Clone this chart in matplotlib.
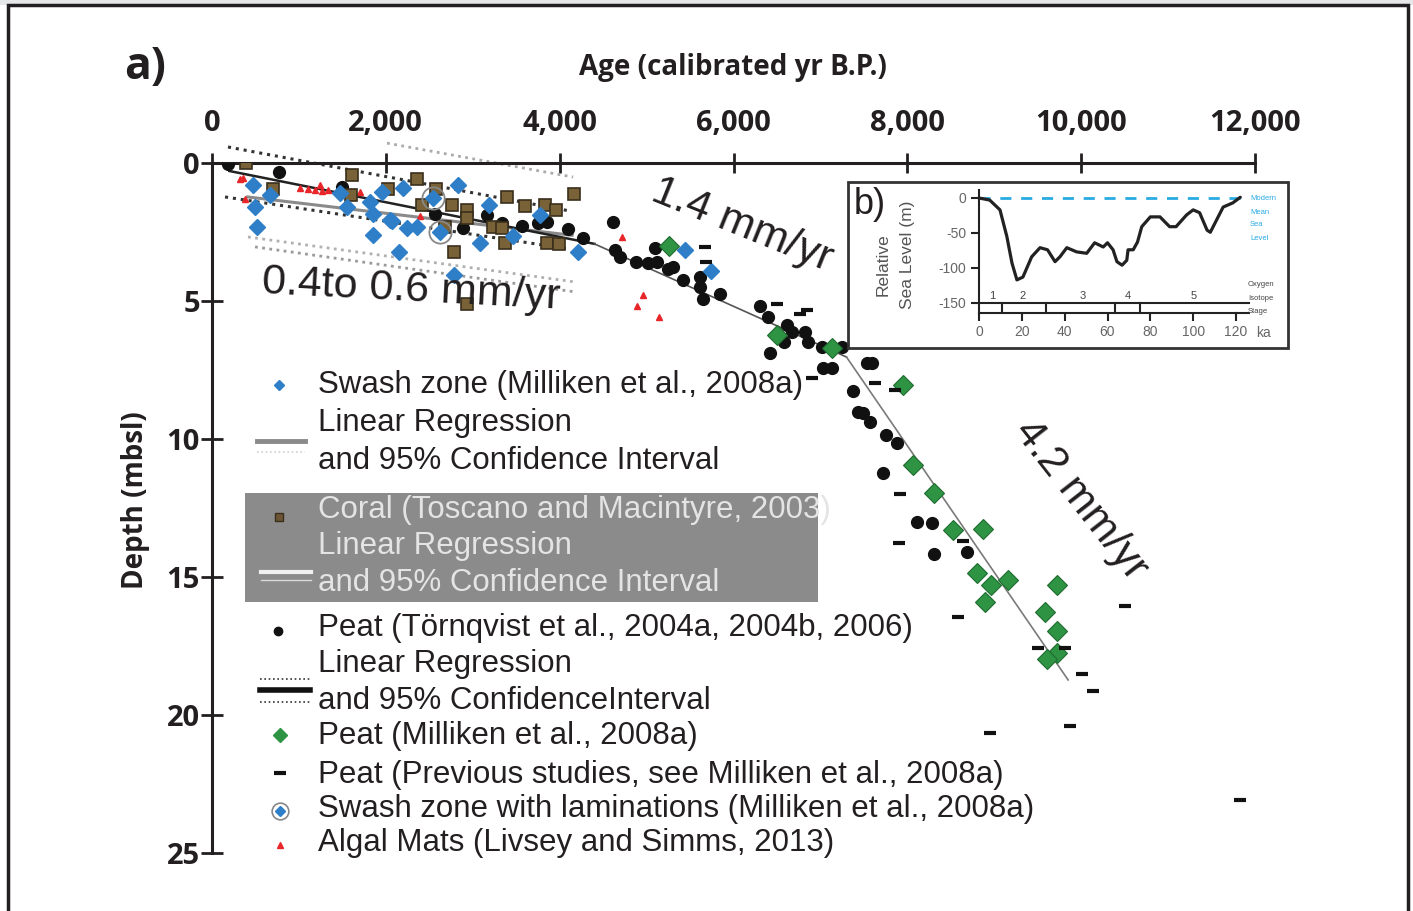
import matplotlib
matplotlib.use("Agg")
import matplotlib.pyplot as plt
from matplotlib.lines import Line2D
from matplotlib.patches import Rectangle

# ------------------------------
# 1. Data (age in cal yr B.P., depth in m below sea level)
# ------------------------------
swash_age = [472, 495, 518, 667, 1473, 1553, 1818, 1853, 1853, 1956, 2048, 2070, 2152, 2198,
             2244, 2359, 2785, 2831, 3084, 3188, 3464, 3774, 4212, 5443, 5742]
swash_depth = [0.80, 1.59, 2.32, 1.16, 1.09, 1.59, 1.41, 1.85, 2.61, 1.05, 2.07, 2.10, 3.22, 0.91,
               2.36, 2.32, 4.06, 0.80, 2.90, 1.52, 2.64, 1.88, 3.22, 3.15, 3.91]

lamin_age = [2543, 2624]
lamin_depth = [1.27, 2.50]

coral_age = [391, 702, 1611, 1600, 2025, 2359, 2578, 2417, 2762, 2934, 2934, 2681, 2785, 2934,
             3234, 3337, 3372, 3395, 3602, 3832, 3959, 3855, 3993, 4166]
coral_depth = [0.0, 0.94, 0.43, 1.16, 0.94, 0.58, 0.94, 1.52, 1.52, 1.70, 1.99, 2.32, 3.22, 5.11,
               2.32, 2.36, 2.90, 1.23, 1.56, 1.52, 1.70, 2.90, 2.93, 1.12]

peat_t_age = [184, 771, 1496, 2566, 2888, 3165, 3337, 3567, 3752, 3855, 4097, 4269, 4614, 4637,
              4695, 4879, 5017, 5098, 5121, 5247, 5305, 5420, 5616, 5616, 5650, 5846, 6306, 6398,
              6617, 6674, 6824, 6858, 6582, 6421, 7020, 7250, 7031, 7135, 7537, 7595, 7376, 7434,
              7492, 7572, 7756, 7883, 7722, 8113, 8285, 8308, 8688]
peat_t_depth = [0.04, 0.33, 0.87, 1.85, 2.36, 1.88, 2.17, 2.28, 2.17, 2.14, 2.39, 2.72, 2.14, 3.15,
                3.41, 3.59, 3.62, 3.08, 3.59, 3.84, 3.77, 4.24, 4.13, 4.49, 4.93, 4.75, 5.18, 5.58,
                5.87, 6.12, 6.12, 6.49, 6.49, 6.88, 6.67, 6.67, 7.43, 7.43, 7.25, 7.25, 8.26, 9.02,
                9.06, 9.38, 9.86, 10.14, 11.23, 13.01, 13.04, 14.17, 14.09]

peat_m_age = [5259, 6502, 7135, 7952, 8067, 8308, 8527, 8872, 8803, 8964, 9160, 8895, 9724, 9586,
              9724, 9724, 9609]
peat_m_depth = [3.01, 6.23, 6.70, 8.04, 10.94, 11.96, 13.30, 13.26, 14.86, 15.29, 15.11, 15.91,
                15.29, 16.27, 16.96, 17.75, 17.97]

peat_prev_age = [5673, 5685, 6502, 6847, 6766, 6904, 7629, 7860, 7917, 7906, 8642, 8585, 10506,
                 9505, 9816, 10012, 10138, 8953, 9873, 11830]
peat_prev_depth = [3.04, 3.59, 5.11, 5.33, 5.47, 7.79, 7.97, 8.22, 11.99, 13.77, 13.70, 16.45, 16.05,
                   17.57, 17.57, 18.51, 19.13, 20.65, 20.40, 23.08]

algal_age = [322, 357, 380, 1013, 1100, 1180, 1243, 1266, 1330, 1703, 2394, 4718, 4960, 4891, 5144]
algal_depth = [0.58, 0.54, 1.30, 0.92, 0.95, 0.98, 0.80, 1.02, 0.98, 1.05, 1.92, 2.68, 4.78, 5.18, 5.58]

# regression lines and confidence bands
peat_reg_age = [200, 4400]
peat_reg_depth = [0.29, 2.93]
peat_mid_age = [4400, 7300]
peat_mid_depth = [2.93, 7.03]
peat_deep_age = [7300, 9850]
peat_deep_depth = [7.03, 18.73]
peat_ci_up_age, peat_ci_up_depth = [184, 4120], [-0.58, 1.74]
peat_ci_lo_age, peat_ci_lo_depth = [150, 4120], [1.23, 3.12]
swash_reg_age, swash_reg_depth = [410, 4143], [1.23, 2.62]
swash_ci_up_age, swash_ci_up_depth = [2014, 4155], [-0.72, 0.51]
swash_ci_lo_age, swash_ci_lo_depth = [414, 4177], [2.68, 4.31]
coral_ci_lo_age, coral_ci_lo_depth = [495, 4177], [3.04, 4.67]

x_ticks = [0, 2000, 4000, 6000, 8000, 10000, 12000]
x_labels = ["0", "2,000", "4,000", "6,000", "8,000", "10,000", "12,000"]
y_ticks = [0, 5, 10, 15, 20, 25]

# inset b): relative sea level over the last glacial cycle
rsl_ka = [0, 5, 9.8, 13, 15.4, 17.7, 20.5, 24.6, 28.5, 32, 35.5, 37.8, 41, 45.6, 50.3, 54, 58, 60,
          62.6, 64.4, 66.8, 69, 69.6, 72, 74, 76, 80, 84.5, 89, 92, 97, 100, 103, 106.5, 108, 111,
          114, 118.5, 122]
rsl_m = [0, -3, -17, -55, -93, -117, -113, -84, -71, -74, -91, -84, -71, -77, -79, -64, -70, -64,
         -74, -91, -96, -89, -74, -74, -63, -41, -27, -27, -41, -41, -24, -17, -21, -46, -49, -31,
         -13, -7, 1]
inset_x_ticks = [0, 20, 40, 60, 80, 100, 120]
inset_y_ticks = [0, -50, -100, -150]
stage_bounds = [10.7, 31.3, 63.5, 75.2]
stage_names = ["1", "2", "3", "4", "5"]
stage_pos = [6, 20.5, 48.5, 69.6, 100.4]

# ------------------------------
# 2. Figure
# ------------------------------
W, H = 1413, 911
fig = plt.figure(figsize=(W / 100, H / 100), dpi=100)


def fp(x, y):
    return (x / W, 1 - y / H)


LEG = "Liberation Sans"
HEAD = "Open Sans"
TXT = "#231f20"

# panel frame
fig.add_artist(Rectangle((0, 1 - 5 / H), 1, 5 / H, transform=fig.transFigure,
                         facecolor="#e6e7e8", edgecolor="none", zorder=0))
fig.add_artist(Rectangle(fp(8, 930), 1400 / W, 925 / H, transform=fig.transFigure,
                         fill=False, edgecolor="#231f20", lw=2.5, zorder=10))

ax = fig.add_axes([212 / W, 1 - 853 / H, (1255 - 212) / W, (853 - 163) / H])
ax.set_xlim(0, 12000)
ax.set_ylim(25, 0)
ax.patch.set_alpha(0)
for s in ["bottom", "right"]:
    ax.spines[s].set_visible(False)
for s in ["top", "left"]:
    ax.spines[s].set_linewidth(2.2)
    ax.spines[s].set_color("#231f20")
ax.xaxis.tick_top()
ax.set_xticks(x_ticks)
ax.set_xticklabels(x_labels, fontfamily=HEAD, fontweight="bold", fontsize=21, color=TXT)
ax.set_yticks(y_ticks)
ax.set_yticklabels([str(v) for v in y_ticks], fontfamily=HEAD, fontweight="bold", fontsize=21,
                   color=TXT)
ax.tick_params(axis="x", direction="inout", length=14.4, width=2, pad=11, colors=TXT)
ax.tick_params(axis="y", direction="inout", length=16.5, width=2, pad=0.5, colors=TXT)

fig.text(*fp(733, 67), "Age (calibrated yr B.P.)", fontfamily=HEAD, fontweight="bold",
         fontsize=20, ha="center", va="center", color=TXT)
fig.text(*fp(145, 68), "a)", fontfamily=HEAD, fontweight="bold", fontsize=32,
         ha="center", va="center", color=TXT)
fig.text(*fp(135, 500), "Depth (mbsl)", fontfamily=HEAD, fontweight="bold", fontsize=20,
         rotation=90, ha="center", va="center", color=TXT)

# confidence bands (dotted)
dot = (0, (1, 1.6))
ax.plot(peat_ci_up_age, peat_ci_up_depth, ls=dot, lw=2.2, color="#333333", clip_on=False)
ax.plot(peat_ci_lo_age, peat_ci_lo_depth, ls=dot, lw=2.2, color="#333333", clip_on=False)
ax.plot(swash_ci_up_age, swash_ci_up_depth, ls=dot, lw=2.0, color="#aaaaaa", clip_on=False)
ax.plot(swash_ci_lo_age, swash_ci_lo_depth, ls=dot, lw=2.0, color="#b0b0b0", clip_on=False)
ax.plot(coral_ci_lo_age, coral_ci_lo_depth, ls=dot, lw=2.0, color="#9a9a9a", clip_on=False)

# regression lines
ax.plot(swash_reg_age, swash_reg_depth, color="#8a8a8a", lw=2.2, zorder=3)
ax.plot(peat_reg_age, peat_reg_depth, color="#222222", lw=1.8, zorder=3)
ax.plot(peat_mid_age, peat_mid_depth, color="#555555", lw=1.2, zorder=3)
ax.plot(peat_deep_age, peat_deep_depth, color="#7a7a7a", lw=1.2, zorder=3)

# data points
ax.plot(algal_age, algal_depth, ls="none", marker="^", ms=5, color="#e8262a", mec="#e8262a", zorder=4)
ax.plot(peat_t_age, peat_t_depth, ls="none", marker="o", ms=8.5, color="#111111", zorder=5)
ax.plot(coral_age, coral_depth, ls="none", marker="s", ms=9, color="#7a6238", mec="#3a2f1c",
        mew=1.2, zorder=5)
ax.plot(swash_age, swash_depth, ls="none", marker="D", ms=8.5, color="#2f7fc8", mec="#2f7fc8", zorder=6)
ax.plot(lamin_age, lamin_depth, ls="none", marker="D", ms=8.5, color="#2f7fc8", zorder=6)
ax.plot(lamin_age, lamin_depth, ls="none", marker="o", ms=16, mfc="none", mec="#888888",
        mew=1.3, zorder=6)
ax.plot(peat_m_age, peat_m_depth, ls="none", marker="D", ms=10.5, color="#2e9444", mec="#1f6b30",
        mew=0.8, zorder=6)
ax.plot(peat_prev_age, peat_prev_depth, ls="none", marker="_", ms=9, mew=3, color="#111111",
        zorder=6)

# rate annotations
ax.text(2290, 4.60, "0.4to 0.6 mm/yr", fontfamily=LEG, fontsize=31, rotation=-3,
        ha="center", va="center", rotation_mode="anchor", color=TXT, zorder=7)
ax.text(6099, 2.25, "1.4 mm/yr", fontfamily=LEG, fontsize=31, rotation=-22,
        ha="center", va="center", rotation_mode="anchor", color=TXT, zorder=7)
ax.text(9988, 12.21, "4.2 mm/yr", fontfamily=LEG, fontsize=31, rotation=-52,
        ha="center", va="center", rotation_mode="anchor", color=TXT, zorder=7)

# ------------------------------
# 3. Legend (drawn by hand)
# ------------------------------
def leg_text(x, y, s, color=TXT):
    fig.text(*fp(x, y), s, fontfamily=LEG, fontsize=22.5, ha="left", va="center",
             color=color, zorder=12)


def leg_mark(x, y, **kw):
    fig.add_artist(Line2D([x / W], [1 - y / H], transform=fig.transFigure, ls="none",
                          zorder=12, **kw))


def leg_line(x0, x1, y, **kw):
    fig.add_artist(Line2D([x0 / W, x1 / W], [1 - y / H, 1 - y / H], transform=fig.transFigure,
                          zorder=12, **kw))


fig.add_artist(Rectangle(fp(245, 602), (818 - 245) / W, (602 - 493) / H,
                         transform=fig.transFigure, facecolor="#8b8b8b", edgecolor="none",
                         zorder=11))

leg_mark(279, 385, marker="D", ms=5.5, color="#2f7fc8")
leg_text(318, 385, "Swash zone (Milliken et al., 2008a)")
leg_text(318, 423, "Linear Regression")
leg_text(318, 461, "and 95% Confidence Interval")
leg_line(257, 305, 441, color="#8a8a8a", lw=3.5)
leg_line(257, 305, 452, color="#d0d0d0", lw=1.2, ls=dot)

leg_mark(279, 517, marker="s", ms=6, color="#6b5533", mec="#3a2f1c")
leg_text(318, 510, "Coral (Toscano and Macintyre, 2003)", color="#e4e4e4")
leg_text(318, 546, "Linear Regression", color="#e4e4e4")
leg_text(318, 583, "and 95% Confidence Interval", color="#e4e4e4")
leg_line(261, 311, 572, color="#f0f0f0", lw=3)
leg_line(261, 311, 580, color="#d8d8d8", lw=1)

leg_mark(278, 631, marker="o", ms=6, color="#111111")
leg_text(318, 628, "Peat (Törnqvist et al., 2004a, 2004b, 2006)")
leg_text(318, 664, "Linear Regression")
leg_text(318, 701, "and 95% ConfidenceInterval")
leg_line(260, 310, 679, color="#333333", lw=1.2, ls=dot)
leg_line(260, 310, 690, color="#111111", lw=4)
leg_line(260, 310, 702, color="#333333", lw=1.2, ls=dot)

leg_mark(280, 735, marker="D", ms=7, color="#2e9444")
leg_text(318, 736, "Peat (Milliken et al., 2008a)")
leg_mark(280, 773, marker="_", ms=9, mew=3, color="#111111")
leg_text(318, 775, "Peat (Previous studies, see Milliken et al., 2008a)")
leg_mark(280, 811, marker="D", ms=5, color="#2f7fc8")
leg_mark(280, 811, marker="o", ms=12, mfc="none", mec="#888888", mew=1.2)
leg_text(318, 809, "Swash zone with laminations (Milliken et al., 2008a)")
leg_mark(280, 845, marker="^", ms=4.5, color="#e8262a")
leg_text(318, 843, "Algal Mats (Livsey and Simms, 2013)")

# ------------------------------
# 4. Inset b)
# ------------------------------
fig.add_artist(Rectangle(fp(848, 348), 440 / W, 166 / H, transform=fig.transFigure,
                         facecolor="white", edgecolor="#333333", lw=2, zorder=13))
ax2 = fig.add_axes([979 / W, 1 - 313 / H, 257 / W, 123 / H], zorder=14)
ax2.patch.set_alpha(0)
ax2.set_xlim(0, 120)
ax2.set_ylim(-164.3, 11.4)
for s in ["top", "right"]:
    ax2.spines[s].set_visible(False)
for s in ["left", "bottom"]:
    ax2.spines[s].set_linewidth(1.5)
    ax2.spines[s].set_color("#222222")
ax2.set_xticks(inset_x_ticks)
ax2.set_xticklabels([str(v) for v in inset_x_ticks], fontfamily=LEG)
ax2.set_yticks(inset_y_ticks)
ax2.set_yticklabels([str(v) for v in inset_y_ticks], fontfamily=LEG)
ax2.tick_params(axis="both", direction="out", length=6, width=1.5, colors="#222222",
                labelsize=10, labelcolor="#666666", pad=3)

ax2.plot([0, 126], [0, 0], color="#29abe2", lw=2, ls=(0, (4, 3.5)), clip_on=False)
ax2.plot(rsl_ka, rsl_m, color="#222222", lw=2.3, clip_on=False, solid_joinstyle="round",
         solid_capstyle="round")
ax2.plot([0, 126], [-150, -150], color="#222222", lw=1.5, clip_on=False)
ax2.plot([120, 126], [-164.3, -164.3], color="#222222", lw=1.5, clip_on=False)
for b in stage_bounds:
    ax2.plot([b, b], [-150, -164.3], color="#222222", lw=1.5)
for name, pos in zip(stage_names, stage_pos):
    ax2.text(pos, -140, name, fontfamily=LEG, fontsize=8, color="#444444",
             ha="center", va="center")

fig.text(*fp(870, 205), "b)", fontfamily=LEG, fontsize=26, ha="center", va="center",
         color=TXT, zorder=15)
fig.text(*fp(883, 265), "Relative", fontfamily=LEG, fontsize=12.5, rotation=90,
         ha="center", va="center", color="#555555", zorder=15)
fig.text(*fp(907, 255), "Sea Level (m)", fontfamily=LEG, fontsize=12.5, rotation=90,
         ha="center", va="center", color="#555555", zorder=15)
fig.text(*fp(1256, 333), "ka", fontfamily=LEG, fontsize=10, ha="left", va="center",
         color="#666666", zorder=15)
for i, word in enumerate(["Modern", "Mean", "Sea", "Level"]):
    fig.text(*fp(1250, 199 + 13 * i), word, fontfamily=LEG, fontsize=5.5, ha="left",
             va="center", color="#29abe2", zorder=15)
for i, word in enumerate(["Oxygen", "Isotope", "Stage"]):
    fig.text(*fp(1248, 285 + 13 * i), word, fontfamily=LEG, fontsize=5.5, ha="left",
             va="center", color="#444444", zorder=15)

fig.savefig("out.png", dpi=100)
